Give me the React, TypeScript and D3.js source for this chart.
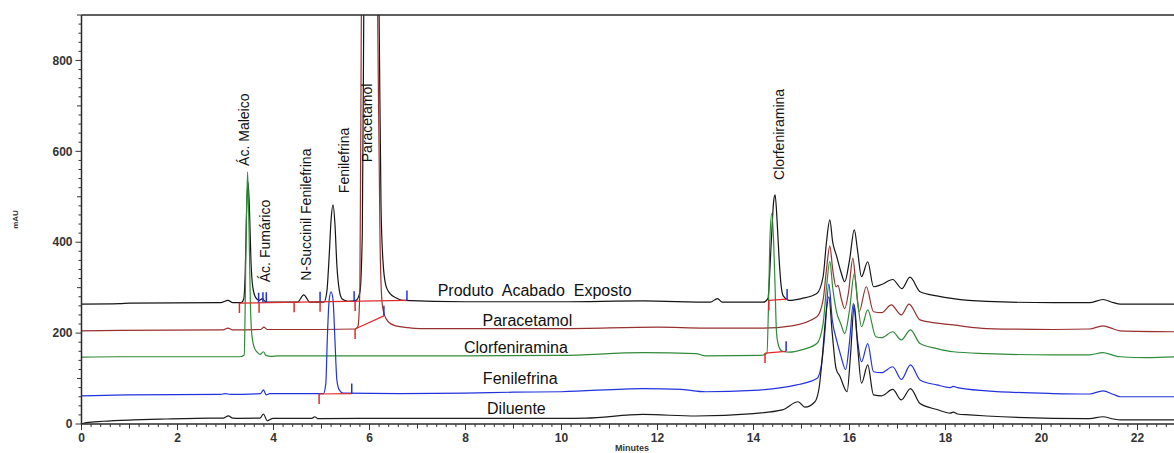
import * as d3 from "d3";

// chromatogram traces: [minutes, mAU]
const produtoPts: [number, number][] = [
  [0, 264], [0.8, 265], [1.0, 266], [2.9, 267], [3.05, 272], [3.15, 267], [3.33, 267], [3.38, 275],
  [3.41, 330], [3.44, 470], [3.47, 532], [3.5, 470], [3.53, 360], [3.57, 300], [3.63, 278], [3.7, 272],
  [3.77, 276], [3.82, 270], [3.9, 268], [4.5, 268], [4.63, 284], [4.76, 268], [5.05, 268], [5.11, 290],
  [5.16, 370], [5.2, 450], [5.24, 482], [5.28, 440], [5.32, 350], [5.37, 295], [5.43, 275], [5.55, 270],
  [5.72, 272], [5.8, 290], [5.85, 420], [5.88, 900], [5.95, 2000], [6.1, 1800], [6.2, 900], [6.24, 480],
  [6.28, 360], [6.34, 305], [6.42, 288], [6.55, 278], [6.7, 272], [8, 269], [10, 269], [11.7, 271],
  [13.1, 268], [13.25, 276], [13.35, 268], [14.2, 268], [14.3, 276], [14.37, 400], [14.42, 490],
  [14.45, 504], [14.49, 450], [14.53, 370], [14.57, 310], [14.62, 282], [14.75, 272], [15.0, 276],
  [15.32, 287], [15.45, 324], [15.52, 400], [15.59, 449], [15.65, 400], [15.73, 370], [15.82, 335],
  [15.9, 313], [16.0, 360], [16.1, 427], [16.17, 380], [16.25, 324], [16.38, 357], [16.5, 302],
  [16.67, 307], [16.9, 318], [17.09, 298], [17.26, 323], [17.47, 291], [17.82, 282], [18.16, 276],
  [18.86, 270], [20.24, 267], [21.0, 267], [21.28, 274], [21.5, 267], [21.64, 264], [22.8, 264],
];

const paracetamolPts: [number, number][] = [
  [0, 205], [0.8, 206], [2.95, 207], [3.05, 211], [3.15, 207], [3.73, 208], [3.8, 213], [3.87, 208],
  [5.0, 208], [5.7, 209], [5.76, 215], [5.8, 300], [5.83, 900], [5.95, 2000], [6.08, 1800], [6.17, 900],
  [6.22, 400], [6.26, 270], [6.31, 240], [6.4, 224], [6.55, 216], [6.8, 212], [7.05, 210], [8, 210],
  [10, 210], [12, 213], [13, 211], [14.2, 211], [14.8, 216], [15.32, 236], [15.45, 273], [15.52, 340],
  [15.59, 392], [15.65, 340], [15.72, 302], [15.76, 305], [15.83, 275], [15.9, 254], [15.98, 290],
  [16.07, 365], [16.13, 310], [16.2, 247], [16.35, 302], [16.5, 247], [16.67, 245], [16.87, 262],
  [17.08, 240], [17.24, 264], [17.47, 229], [17.82, 222], [18.16, 218], [18.86, 210], [20.24, 208],
  [21.0, 209], [21.28, 216], [21.5, 209], [21.64, 205], [22.8, 203],
];

const clorfeniraminaPts: [number, number][] = [
  [0, 147], [0.8, 148], [3.3, 148], [3.39, 152], [3.41, 258], [3.43, 420], [3.46, 555], [3.49, 430],
  [3.52, 258], [3.55, 195], [3.6, 168], [3.66, 158], [3.72, 153], [3.79, 159], [3.84, 151], [3.95, 149],
  [4.1, 150], [8, 150], [10, 151], [11.7, 157], [12.8, 155], [13.0, 150], [14.15, 151], [14.28, 155],
  [14.31, 250], [14.34, 400], [14.38, 463], [14.42, 400], [14.45, 300], [14.48, 200], [14.53, 170],
  [14.6, 160], [14.75, 158], [15.0, 163], [15.32, 177], [15.45, 221], [15.52, 300], [15.59, 358],
  [15.65, 300], [15.73, 247], [15.82, 220], [15.9, 199], [16.0, 250], [16.1, 331], [16.17, 270],
  [16.25, 214], [16.38, 251], [16.55, 192], [16.67, 190], [16.9, 203], [17.08, 185], [17.27, 207],
  [17.47, 177], [17.82, 166], [18.16, 159], [18.86, 155], [20.24, 152], [21.0, 152], [21.28, 157],
  [21.5, 151], [21.64, 148], [22.2, 146], [22.8, 148],
];

const fenilefrinaPts: [number, number][] = [
  [0, 62], [0.5, 63], [1.0, 64], [2.9, 65], [3.0, 67], [3.1, 65], [3.73, 67], [3.79, 75], [3.85, 64],
  [3.92, 67], [4.9, 67], [5.04, 67], [5.09, 89], [5.12, 185], [5.16, 273], [5.2, 291], [5.24, 273],
  [5.28, 185], [5.32, 97], [5.37, 75], [5.45, 68], [6.65, 67], [8, 68], [9, 70], [10, 71], [11.7, 78],
  [12.5, 76], [13.0, 71], [14, 74], [14.9, 86], [15.32, 100], [15.42, 133], [15.48, 192], [15.57, 308],
  [15.64, 230], [15.73, 185], [15.82, 150], [15.92, 120], [16.0, 180], [16.08, 265], [16.16, 190],
  [16.25, 137], [16.38, 177], [16.5, 115], [16.67, 113], [16.9, 126], [17.08, 98], [17.27, 130],
  [17.47, 97], [17.82, 86], [18.1, 80], [18.16, 83], [18.25, 80], [18.86, 73], [20.24, 67], [21.0, 66],
  [21.28, 73], [21.5, 65], [21.64, 60], [22.8, 60],
];

const diluentePts: [number, number][] = [
  [0, 0], [0.1, 3], [0.45, 6], [1.08, 9], [1.77, 11], [2.4, 12.5], [2.95, 13], [3.06, 18], [3.15, 13],
  [3.3, 12.5], [3.72, 13], [3.79, 22], [3.87, 7], [3.99, 12.5], [4.8, 12.5], [4.86, 16], [4.92, 12],
  [6.63, 12.5], [8, 12.5], [10, 12.5], [10.5, 13], [11.7, 21], [12.8, 17.6], [14.0, 23], [14.6, 31],
  [14.93, 49], [15.07, 37], [15.28, 49], [15.37, 82], [15.44, 155], [15.48, 207], [15.57, 280],
  [15.64, 200], [15.72, 122], [15.8, 105], [15.95, 71], [16.02, 150], [16.1, 262], [16.17, 170],
  [16.25, 90], [16.38, 130], [16.5, 64], [16.67, 62], [16.9, 76], [17.08, 53], [17.27, 78], [17.47, 45],
  [17.82, 32], [18.1, 24], [18.16, 26], [18.25, 22], [18.5, 20], [18.86, 17.6], [20.24, 12.5],
  [21.0, 12], [21.28, 16], [21.5, 11], [21.64, 9], [22.8, 9],
];

// integration marks: peak start (red) / peak end (blue) and baselines
const startTicks: [number, number][] = [
  [3.29, 266], [3.7, 267], [4.43, 268], [4.97, 269], [5.7, 270.5], [14.32, 272],
  [5.7, 209], [14.24, 156], [4.95, 66],
];
const endTicks: [number, number][] = [
  [3.69, 267], [3.78, 268], [3.85, 268], [4.97, 269], [5.68, 270], [6.78, 272], [14.7, 275],
  [6.3, 238], [14.68, 160], [5.63, 67],
];
const baselines: [number, number][][] = [
  [[3.29, 266], [6.78, 272]],
  [[14.32, 272], [14.7, 275]],
  [[5.7, 209], [6.3, 238]],
  [[14.24, 156], [14.68, 160]],
  [[4.95, 66], [5.63, 67]],
];

const traceNames = ["Produto  Acabado  Exposto", "Paracetamol", "Clorfeniramina", "Fenilefrina", "Diluente"];
const traceLabelPos: [number, number][] = [[9.44, 282], [9.29, 216], [9.05, 156], [9.14, 88], [9.06, 22]];

const peakNames = ["Ác. Maleico", "Ác. Fumárico", "N-Succinil Fenilefrina", "Fenilefrina", "Paracetamol", "Clorfeniramina"];
const peakLabelPos: [number, number][] = [[3.49, 568], [3.93, 312], [4.78, 315], [5.57, 508], [6.06, 576], [14.64, 537]];

const xTickLabels = [0, 2, 4, 6, 8, 10, 12, 14, 16, 18, 20, 22];
const yTickLabels = [0, 200, 400, 600, 800];

const W = 1174;
const H = 453;
const x = d3.scaleLinear().domain([0, 22]).range([81.5, 1137.5]);
const y = d3.scaleLinear().domain([0, 900]).range([424, 15]);
const font = "'Liberation Sans', Arial, sans-serif";

const traces = [
  { pts: produtoPts, color: "#151515" },
  { pts: paracetamolPts, color: "#983030" },
  { pts: clorfeniraminaPts, color: "#2f8a3a" },
  { pts: fenilefrinaPts, color: "#2232dc" },
  { pts: diluentePts, color: "#1a1a1a" },
];

const line = d3.line<[number, number]>()
  .x(d => x(d[0]))
  .y(d => y(d[1]))
  .curve(d3.curveMonotoneX);

export default function App() {
  const xMax = x.invert(W);
  const xMinor = d3.range(0, xMax, 0.2);
  const yMinor = d3.range(0, 901, 20);
  const left = x(0);

  return (
    <svg width={W} height={H} style={{ position: "absolute", left: 0, top: 0, background: "#fff" }}
      fontFamily={font}>
      <defs>
        <clipPath id="plot">
          <rect x={left} y={y(900)} width={W - left} height={y(0) - y(900)} />
        </clipPath>
      </defs>

      {/* traces */}
      <g clipPath="url(#plot)" fill="none" strokeWidth={1.2}>
        {traces.map((t, i) => (
          <path key={i} d={line(t.pts) || ""} stroke={t.color} strokeLinejoin="round" />
        ))}
        {baselines.map((b, i) => (
          <line key={i} x1={x(b[0][0])} y1={y(b[0][1])} x2={x(b[1][0])} y2={y(b[1][1])}
            stroke="#e02a2a" strokeWidth={1.2} />
        ))}
        {startTicks.map((d, i) => (
          <line key={i} x1={x(d[0])} x2={x(d[0])} y1={y(d[1])} y2={y(d[1]) + 10}
            stroke="#e02a2a" strokeWidth={1.5} />
        ))}
        {endTicks.map((d, i) => (
          <line key={i} x1={x(d[0])} x2={x(d[0])} y1={y(d[1])} y2={y(d[1]) - 10}
            stroke="#2030e0" strokeWidth={1.5} />
        ))}
      </g>

      {/* axes frame */}
      <g stroke="#2a2a2a" strokeWidth={1.5}>
        <line x1={left} x2={left} y1={y(900)} y2={y(0)} />
        <line x1={left} x2={W} y1={y(900)} y2={y(900)} />
        <line x1={left} x2={W} y1={y(0)} y2={y(0)} />
      </g>

      {/* ticks */}
      <g stroke="#333" strokeWidth={1}>
        {xMinor.map((v, i) => {
          const r = Math.round(v * 5) / 5;
          const len = r % 2 === 0 ? 6 : Number.isInteger(r) ? 4.5 : 3;
          return <line key={i} x1={x(r)} x2={x(r)} y1={y(0)} y2={y(0) + len} />;
        })}
        {yMinor.map((v, i) => {
          const len = v % 200 === 0 ? 6 : v % 100 === 0 ? 4.5 : 3;
          return <line key={i} x1={left - len} x2={left} y1={y(v)} y2={y(v)} />;
        })}
      </g>
      <g fontSize={12} fontWeight="bold" fill="#333">
        {xTickLabels.map(v => (
          <text key={v} x={x(v)} y={442} textAnchor="middle">{v}</text>
        ))}
        {yTickLabels.map(v => (
          <text key={v} x={left - 9} y={y(v)} dy="0.35em" textAnchor="end">{v}</text>
        ))}
      </g>
      <text transform={`translate(18,${y(450)}) rotate(-90)`} fontSize={8} fontWeight="bold"
        fill="#333" textAnchor="middle">mAU</text>
      <text x={632} y={451} fontSize={9} fontWeight="bold" fill="#333" textAnchor="middle">Minutes</text>

      {/* trace labels */}
      <g fontSize={16} fill="#111" textAnchor="middle">
        {traceNames.map((n, i) => (
          <text key={n} x={x(traceLabelPos[i][0])} y={y(traceLabelPos[i][1])}
            style={{ whiteSpace: "pre" }}>{n}</text>
        ))}
      </g>

      {/* peak labels */}
      <g fontSize={14} fill="#111">
        {peakNames.map((n, i) => (
          <text key={n + i}
            transform={`translate(${x(peakLabelPos[i][0])},${y(peakLabelPos[i][1])}) rotate(-90)`}>{n}</text>
        ))}
      </g>
    </svg>
  );
}
